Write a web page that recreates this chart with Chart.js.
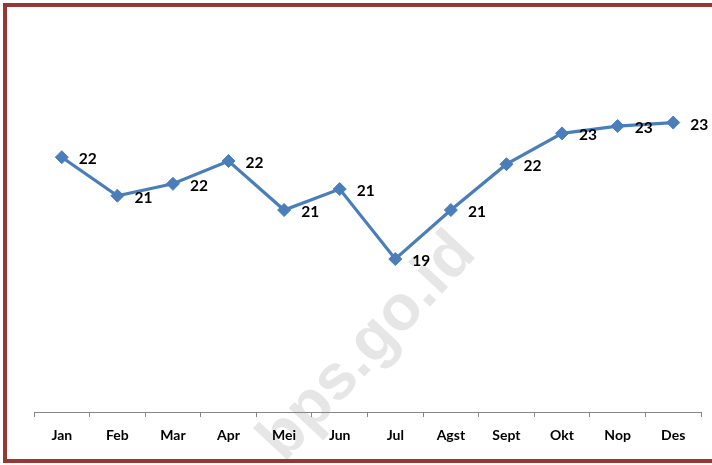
<!DOCTYPE html>
<html>
<head>
<meta charset="utf-8">
<script src="https://cdn.jsdelivr.net/npm/chart.js@4.4.1/dist/chart.umd.min.js"></script>
<style>
  html, body { margin: 0; padding: 0; background: #fff; overflow: hidden; }
  #wrap { position: relative; width: 712px; height: 465px; }
  #wrap canvas { position: absolute; left: 0; top: 0; }
  /* dark red frame: left, top and bottom only */
  #frame { position: absolute; left: 3px; top: 3px; width: 709px; height: 460px; box-sizing: border-box;
           border: 4px solid #953735; border-right: none; pointer-events: none; }
</style>
</head>
<body>
<div id="wrap">
  <canvas id="chart" width="712" height="465"></canvas>
  <div id="frame"></div>
</div>
<script>
  const months = ['Jan', 'Feb', 'Mar', 'Apr', 'Mei', 'Jun', 'Jul', 'Agst', 'Sept', 'Okt', 'Nop', 'Des'];
  const values = [22.28, 21.18, 21.52, 22.17, 20.77, 21.37, 19.37, 20.77, 22.08, 22.96, 23.17, 23.27];
  const yMin = 15, yMax = 26;

  const BLUE = '#4a7ebb';
  const AXIS = '#868686';
  const FONT = 'Lato, "Open Sans", sans-serif';

  /* light grey site watermark, drawn first so axis text and the line sit on top */
  const watermark = {
    id: 'watermark',
    beforeDraw(chart) {
      const ctx = chart.ctx;
      ctx.save();
      ctx.translate(368, 347);
      ctx.rotate(-47 * Math.PI / 180);
      ctx.font = 'bold 64px "Liberation Sans", Arial, sans-serif';
      ctx.fillStyle = '#e6e6e6';
      ctx.textAlign = 'center';
      ctx.textBaseline = 'middle';
      ctx.fillText('bps.go.id', 0, 0);
      ctx.restore();
    }
  };

  /* rounded value to the right of each marker */
  const pointLabels = {
    id: 'pointLabels',
    afterDatasetsDraw(chart) {
      const ctx = chart.ctx;
      const ds = chart.data.datasets[0];
      ctx.save();
      ctx.font = 'bold 15.5px ' + FONT;
      ctx.fillStyle = '#000';
      ctx.textAlign = 'center';
      ctx.textBaseline = 'middle';
      chart.getDatasetMeta(0).data.forEach((pt, i) => {
        ctx.fillText(String(Math.round(ds.data[i])), pt.x + 26, pt.y + 2);
      });
      ctx.restore();
    }
  };

  new Chart(document.getElementById('chart'), {
    type: 'line',
    data: {
      labels: months,
      datasets: [{
        data: values,
        borderColor: BLUE, backgroundColor: BLUE, borderWidth: 3.2, tension: 0,
        pointStyle: 'rectRot', pointRadius: 6.5, pointBackgroundColor: BLUE, pointBorderColor: BLUE, pointBorderWidth: 1
      }]
    },
    options: {
      responsive: false, animation: false, clip: false,
      layout: { padding: { left: 34, right: 11, top: 27, bottom: 0 } },
      plugins: { legend: { display: false }, tooltip: { enabled: false } },
      scales: {
        x: {
          offset: true,
          grid: { offset: true, drawOnChartArea: false, tickLength: 5, color: AXIS },
          border: { color: AXIS, width: 1 },
          ticks: { color: '#000', padding: 10, font: { family: FONT, weight: 'bold', size: 14 } },
          afterFit: (s) => { s.height = 53; }
        },
        y: { display: false, min: yMin, max: yMax }
      }
    },
    plugins: [watermark, pointLabels]
  });
</script>
</body>
</html>
